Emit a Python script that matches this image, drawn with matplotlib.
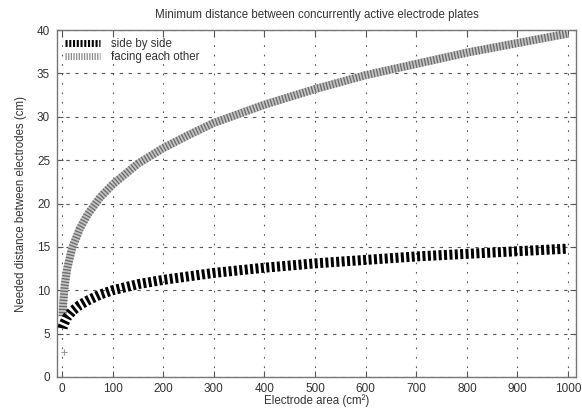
import matplotlib
matplotlib.use("Agg")
import matplotlib.pyplot as plt
from matplotlib.lines import Line2D

plt.rcParams['font.family'] = ['Liberation Sans', 'DejaVu Sans']

# values
area = [1, 2, 5, 10, 20, 35, 50, 75, 100, 150, 200, 250, 300, 400, 500, 600, 700, 800, 900, 1000]
side = [5.6, 5.9, 6.3, 6.9, 7.6, 8.3, 8.8, 9.5, 10.0, 10.7, 11.2, 11.6, 12.0, 12.6, 13.1, 13.5, 13.9, 14.2, 14.5, 14.8]
facing = [7.0, 8.4, 10.5, 12.5, 14.9, 17.1, 18.7, 20.7, 22.2, 24.6, 26.4, 27.9, 29.3, 31.4, 33.2, 34.8, 36.1, 37.4, 38.5, 39.6]
xticks = [0, 100, 200, 300, 400, 500, 600, 700, 800, 900, 1000]
yticks = [0, 5, 10, 15, 20, 25, 30, 35, 40]

fig = plt.figure(figsize=(5.82, 4.12), dpi=100)
ax = fig.add_axes([0.098, 0.085, 0.892, 0.842])

# gray hatched band
ax.plot(area, facing, color='#c4c4c4', lw=5.8, solid_capstyle='butt', zorder=3)
ax.plot(area, facing, color='#6a6a6a', lw=5.8, ls=(0, (0.16, 0.22)), zorder=4)
# black striped band
ax.plot(area, side, color='black', lw=7.2, ls=(0, (0.3, 0.24)), zorder=5)
ax.plot([4], [2.9], marker='+', color='#999999', ms=4, mew=0.8, ls='none')

ax.set_xlim(-10, 1016)
ax.set_ylim(0, 40)
ax.set_xticks(xticks)
ax.set_yticks(yticks)
ax.tick_params(direction='in', length=4, width=0.8, color='#555555',
               top=True, right=True, labelsize=8.5, labelcolor='#333333', pad=5)
ax.tick_params(axis='x', pad=4)
ax.xaxis.grid(True, color='#555555', lw=0.8, ls=(0, (1.5, 7)))
ax.yaxis.grid(True, color='#555555', lw=0.8, ls=(0, (3, 5)))
for s in ax.spines.values():
    s.set_color('#777777')
    s.set_linewidth(1.0)

ax.set_title("Minimum distance between concurrently active electrode plates",
             fontsize=8.3, color='#333333', pad=9)
ax.set_xlabel("Electrode area (cm²)", fontsize=8.3, color='#333333')
ax.xaxis.set_label_coords(0.5, -0.05)
ax.set_ylabel("Needed distance between electrodes (cm)", fontsize=8.3, color='#333333', labelpad=7)

h1 = Line2D([], [], color='black', lw=5, ls=(0, (0.3, 0.24)))
h2 = Line2D([], [], color='#8a8a8a', lw=5, ls=(0, (0.18, 0.2)))
ax.legend([h1, h2], ["side by side", "facing each other"], loc='upper left',
          frameon=False, fontsize=8.3, handlelength=3.0, handletextpad=1.0,
          labelspacing=0.05, borderaxespad=0.3, labelcolor='#333333')

fig.savefig("out.png", dpi=100)
